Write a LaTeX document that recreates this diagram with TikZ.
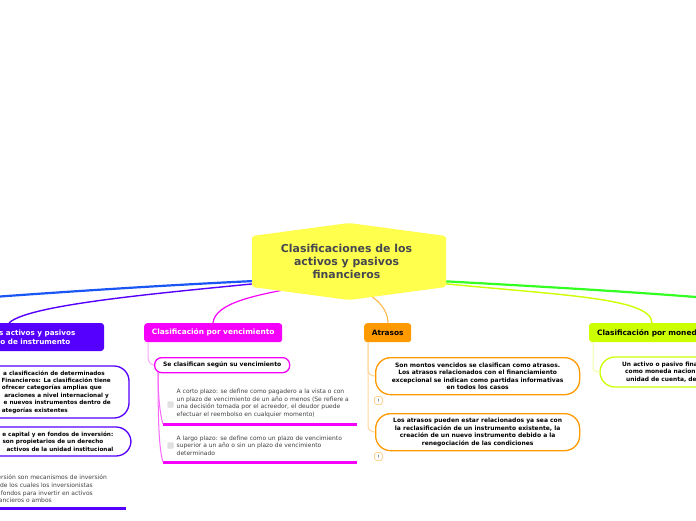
\documentclass[tikz,border=0pt]{standalone}
\usepackage{fontspec}
\setmainfont{DejaVu Sans}
\usetikzlibrary{positioning}
\definecolor{rootyellow}{HTML}{FFFF4D}
\definecolor{roottext}{HTML}{45474F}
\definecolor{instblue}{HTML}{1A55F5}
\definecolor{instpurple}{HTML}{5500FF}
\definecolor{venc}{HTML}{F500FA}
\definecolor{atraso}{HTML}{FF9900}
\definecolor{moneda}{HTML}{CCFF00}
\definecolor{monedagreen}{HTML}{33FF22}
\newcommand{\linepad}[1]{\hbox to #1pt{}}
\tikzset{
topic/.style={rounded corners=3pt,inner sep=0pt,minimum height=19pt,font=\bfseries\fontsize{7.4}{9}\selectfont},
bubble/.style={draw,line width=1.3pt,fill=white,rounded corners=15pt,inner sep=0pt,font=\bfseries\fontsize{6}{7.5}\selectfont,text=black},
cuttext/.style={anchor=east,align=right,inner sep=0pt,font=\bfseries\fontsize{5.7}{7.4}\selectfont},
plain/.style={inner sep=0pt,font=\fontsize{6}{7.6}\selectfont,text=black!75},
rule/.style={line width=3pt},
branch/.style={line width=1pt},
icon/.style={draw=atraso!45,fill=white,rounded corners=2.5pt,line width=.8pt,minimum size=8pt,inner sep=0pt,font=\fontsize{4.5}{4.5}\selectfont},
tick/.style={fill=black!12,draw=black!6,rounded corners=1.2pt,minimum size=6.5pt,inner sep=0pt}
}
\begin{document}
\begin{tikzpicture}[x=1pt,y=-1pt]
\useasboundingbox (0,0) rectangle (696,520);
% main branches
\coordinate (rl) at (300,279);
\coordinate (rr) at (400,279);
\coordinate (edgel) at (0,296.5);
\coordinate (edger) at (696,297);
\coordinate (instend) at (9,323);
\coordinate (vencl) at (300,287);
\coordinate (vencend) at (213,323);
\coordinate (atrl) at (360,290);
\coordinate (atrend) at (388,323);
\coordinate (monend) at (652,323);
\draw[instblue,line width=2.2pt] (rl) .. controls (200,283) and (90,290) .. (edgel);
\draw[instpurple,line width=1.4pt] (rl) .. controls (200,290) and (30,302) .. (instend);
\draw[venc,line width=1.2pt] (vencl) .. controls (255,295) and (215,303) .. (vencend);
\draw[atraso!70,line width=1.1pt] (atrl) .. controls (378,298) and (388,310) .. (atrend);
\draw[monedagreen,line width=2.2pt] (rr) .. controls (500,284) and (620,291) .. (edger);
\draw[moneda,line width=1.4pt] (rr) .. controls (540,295) and (652,295) .. (monend);
% root
\fill[rootyellow,rounded corners=2pt] (252,236) -- (349,223) -- (446,236) -- (446,287) -- (349,300) -- (252,287) -- cycle;
\node[align=center,text=roottext,inner sep=0pt,font=\bfseries\fontsize{10.9}{13}\selectfont] (root) at (346.5,261.5) {Clasificaciones de los\\activos y pasivos\\financieros};
% instrumento
\fill[instpurple,rounded corners=3pt] (-20,323) rectangle (104,351);
\node[cuttext,text=white,font=\bfseries\fontsize{7.2}{9}\selectfont] (inst) at (75.5,337) {s activos y pasivos\\o de instrumento\linepad{5}};
\draw[bubble,draw=instpurple] (-40,366) rectangle (129,418);
\node[cuttext] (inst1) at (111,392) {a clasificación de determinados\linepad{6}\\Financieros: La clasificación tiene\\ofrecer categorías amplias que\linepad{9}\\araciones a nivel internacional y\linepad{2}\\e nuevos instrumentos dentro de\\ategorías existentes\linepad{43}};
\draw[bubble,draw=instpurple] (-40,427) rectangle (131,456);
\node[cuttext] (inst2) at (113.5,441.5) {e capital y en fondos de inversión:\\son propietarios de un derecho\linepad{10}\\activos de la unidad institucional};
\node[plain,anchor=east,align=right] (inst3) at (107,489) {ersión son mecanismos de inversión\\de los cuales los inversionistas\linepad{14}\\fondos para invertir en activos\linepad{14}\\ancieros o ambos\linepad{55}};
\coordinate (inst3l) at (0,508);
\coordinate (inst3r) at (126,508);
\draw[rule,instpurple] (inst3l) -- (inst3r);
% vencimiento
\node[topic,fill=venc,text=white,minimum width=138pt,anchor=north west] (venct) at (144,323) {Clasificación por vencimiento};
\node[bubble,draw=venc,rounded corners=7pt,minimum width=135pt,minimum height=15pt,anchor=north west] (vencs) at (154,357) {Se clasifican según su vencimiento};
\node[plain,anchor=north west,align=left] (venc1) at (176.5,389) {A corto plazo: se define como pagadero a la vista o con\\un plazo de vencimiento de un año o menos (Se refiere a\\una decisión tomada por el acreedor, el deudor puede\\efectuar el reembolso en cualquier momento)};
\node[plain,anchor=north west,align=left] (venc2) at (176.5,435.5) {A largo plazo: se define como un plazo de vencimiento\\superior a un año o sin un plazo de vencimiento\\determinado};
\node[tick] (tick1) at (170.5,404.5) {};
\node[tick] (tick2) at (170.5,445.5) {};
\coordinate (vencr1l) at (163,424);
\coordinate (vencr1r) at (357,424);
\coordinate (vencr2l) at (163,462);
\coordinate (vencr2r) at (357,462);
\draw[rule,venc] (vencr1l) -- (vencr1r);
\draw[rule,venc] (vencr2l) -- (vencr2r);
\draw[branch,venc!35] (148,342) -- (148,356) .. controls (148,362) and (150,364) .. (vencs.west);
\draw[branch,venc!60] (158,372) .. controls (158,395) and (160,415) .. (vencr1l);
\draw[branch,venc!60] (158,372) .. controls (158,420) and (159,450) .. (vencr2l);
% atrasos
\node[topic,fill=atraso,text=black,minimum width=47pt,anchor=north west] (atrt) at (364,323) {Atrasos};
\node[bubble,draw=atraso,align=center,minimum width=204pt,minimum height=37pt,anchor=north west] (atr1) at (375,357) {Son montos vencidos se clasifican como atrasos.\\Los atrasos relacionados con el financiamiento\\excepcional se indican como partidas informativas\\en todos los casos};
\node[bubble,draw=atraso,align=center,minimum width=204pt,minimum height=37pt,anchor=north west] (atr2) at (375,413) {Los atrasos pueden estar relacionados ya sea con\\la reclasificación de un instrumento existente, la\\creación de un nuevo instrumento debido a la\\renegociación de las condiciones};
\node[icon] (note1) at (378.5,400.5) {!};
\node[icon] (note2) at (378.5,456.5) {!};
\draw[branch,atraso!40] (368,342) -- (368,370) .. controls (368,374) and (371,375.5) .. (atr1.west);
\draw[branch,atraso!40] (368,342) -- (368,426) .. controls (368,430) and (371,431.5) .. (atr2.west);
% moneda
\fill[moneda,rounded corners=3pt] (589,323) rectangle (720,342);
\node[anchor=west,inner sep=0pt,text=black,font=\bfseries\fontsize{7.4}{9}\selectfont] (mont) at (597,333.5) {Clasificación por moned};
\draw[bubble,draw=moneda] (600,357) rectangle (730,387);
\node[anchor=west,align=left,inner sep=0pt,font=\bfseries\fontsize{5.9}{7.4}\selectfont] (mon1) at (622,372) {Un activo o pasivo fina\\\hspace*{3pt}como moneda nacion\\\hspace*{4pt}unidad de cuenta, de};
\draw[branch,moneda!35] (593,342) -- (593,368) .. controls (593,371) and (596,372) .. (600,372);
\end{tikzpicture}
\end{document}
